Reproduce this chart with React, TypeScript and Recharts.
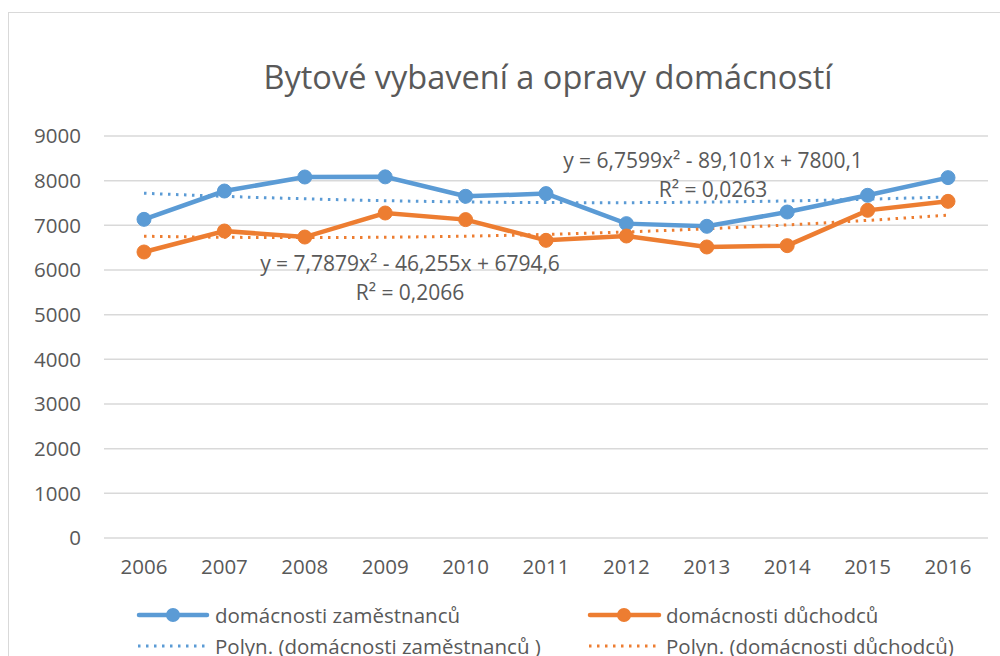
import React from 'react';
import { LineChart, Line, XAxis, YAxis, CartesianGrid } from 'recharts';

const years = ['2006', '2007', '2008', '2009', '2010', '2011', '2012', '2013', '2014', '2015', '2016'];
const zamestnancu = [7134, 7768, 8082, 8085, 7650, 7710, 7038, 6978, 7298, 7672, 8068];
const duchodcu = [6403, 6873, 6738, 7276, 7128, 6664, 6761, 6515, 6545, 7336, 7537];
const trendZamestnancu = [7718, 7649, 7594, 7552, 7524, 7509, 7508, 7520, 7546, 7585, 7638];
const trendDuchodcu = [6756, 6733, 6726, 6734, 6758, 6797, 6852, 6923, 7009, 7111, 7228];
const yTicks = [0, 1000, 2000, 3000, 4000, 5000, 6000, 7000, 8000, 9000];

const title = 'Bytové vybavení a opravy domácností';
const seriesNames = ['domácnosti zaměstnanců', 'domácnosti důchodců'];
const trendNames = ['Polyn. (domácnosti zaměstnanců )', 'Polyn. (domácnosti důchodců)'];
const eqZam = ['y = 6,7599x² - 89,101x + 7800,1', 'R² = 0,0263'];
const eqDuch = ['y = 7,7879x² - 46,255x + 6794,6', 'R² = 0,2066'];

const BLUE = '#5B9BD5';
const ORANGE = '#ED7D31';
const TEXT = '#595959';
const GRID = '#D9D9D9';
const FONT = '"Open Sans", sans-serif';

const data = years.map((year, i) => ({
  year,
  zam: zamestnancu[i],
  duch: duchodcu[i],
  tz: trendZamestnancu[i],
  td: trendDuchodcu[i],
}));

export default function App() {
  return (
    <div style={{ position: 'absolute', left: 0, top: 0, width: 1000, height: 656, background: '#fff', overflow: 'hidden', fontFamily: FONT }}>
      <div style={{ position: 'absolute', left: 8, top: 12, width: 1100, height: 800, border: `1px solid ${GRID}` }} />
      <div style={{ position: 'absolute', left: 0, top: 0 }}>
        <LineChart width={1000} height={656} data={data} margin={{ top: 136, right: 12, bottom: 88, left: 44 }}>
          <CartesianGrid vertical={false} stroke={GRID} strokeWidth={1.5} />
          <XAxis
            dataKey="year"
            axisLine={false}
            tickLine={false}
            tickSize={0}
            tickMargin={21}
            height={30}
            padding={{ left: 40, right: 40 }}
            tick={{ fill: TEXT, fontSize: 20.5, fontFamily: FONT }}
            interval={0}
          />
          <YAxis
            domain={[0, 9000]}
            ticks={yTicks}
            axisLine={false}
            tickLine={false}
            tickSize={0}
            tickMargin={23}
            width={60}
            tick={{ fill: TEXT, fontSize: 20.5, fontFamily: FONT }}
            interval={0}
          />
          <Line dataKey="zam" stroke={BLUE} strokeWidth={4.5} dot={{ r: 7, fill: BLUE, stroke: BLUE, strokeWidth: 1 }} isAnimationActive={false} />
          <Line dataKey="duch" stroke={ORANGE} strokeWidth={4.5} dot={{ r: 7, fill: ORANGE, stroke: ORANGE, strokeWidth: 1 }} isAnimationActive={false} />
          <Line dataKey="tz" stroke={BLUE} strokeWidth={3} strokeDasharray="2.5 5.5" dot={false} type="monotone" isAnimationActive={false} />
          <Line dataKey="td" stroke={ORANGE} strokeWidth={3} strokeDasharray="2.5 5.5" dot={false} type="monotone" isAnimationActive={false} />
        </LineChart>
      </div>
      <svg width={1000} height={656} style={{ position: 'absolute', left: 0, top: 0, pointerEvents: 'none' }} fontFamily={FONT}>
        <text x={548} y={89} textAnchor="middle" fontSize={32.5} fill={TEXT}>{title}</text>
        <text x={713} y={160} textAnchor="middle" dominantBaseline="central" fontSize={21} fill={TEXT}>{eqZam[0]}</text>
        <text x={713} y={189} textAnchor="middle" dominantBaseline="central" fontSize={21} fill={TEXT}>{eqZam[1]}</text>
        <text x={410} y={263} textAnchor="middle" dominantBaseline="central" fontSize={21} fill={TEXT}>{eqDuch[0]}</text>
        <text x={410} y={292} textAnchor="middle" dominantBaseline="central" fontSize={21} fill={TEXT}>{eqDuch[1]}</text>

        <line x1={139} y1={615} x2={207} y2={615} stroke={BLUE} strokeWidth={4.5} strokeLinecap="round" />
        <circle cx={173} cy={615} r={7} fill={BLUE} />
        <text x={215} y={615} dominantBaseline="central" fontSize={20.5} fill={TEXT}>{seriesNames[0]}</text>
        <line x1={590} y1={615} x2={659} y2={615} stroke={ORANGE} strokeWidth={4.5} strokeLinecap="round" />
        <circle cx={624} cy={615} r={7} fill={ORANGE} />
        <text x={666} y={615} dominantBaseline="central" fontSize={20.5} fill={TEXT}>{seriesNames[1]}</text>

        <line x1={138} y1={646} x2={208} y2={646} stroke={BLUE} strokeWidth={3} strokeDasharray="2.5 5.5" />
        <text x={215} y={646} dominantBaseline="central" fontSize={20.5} fill={TEXT}>{trendNames[0]}</text>
        <line x1={589} y1={646} x2={660} y2={646} stroke={ORANGE} strokeWidth={3} strokeDasharray="2.5 5.5" />
        <text x={666} y={646} dominantBaseline="central" fontSize={20.5} fill={TEXT}>{trendNames[1]}</text>
      </svg>
    </div>
  );
}
